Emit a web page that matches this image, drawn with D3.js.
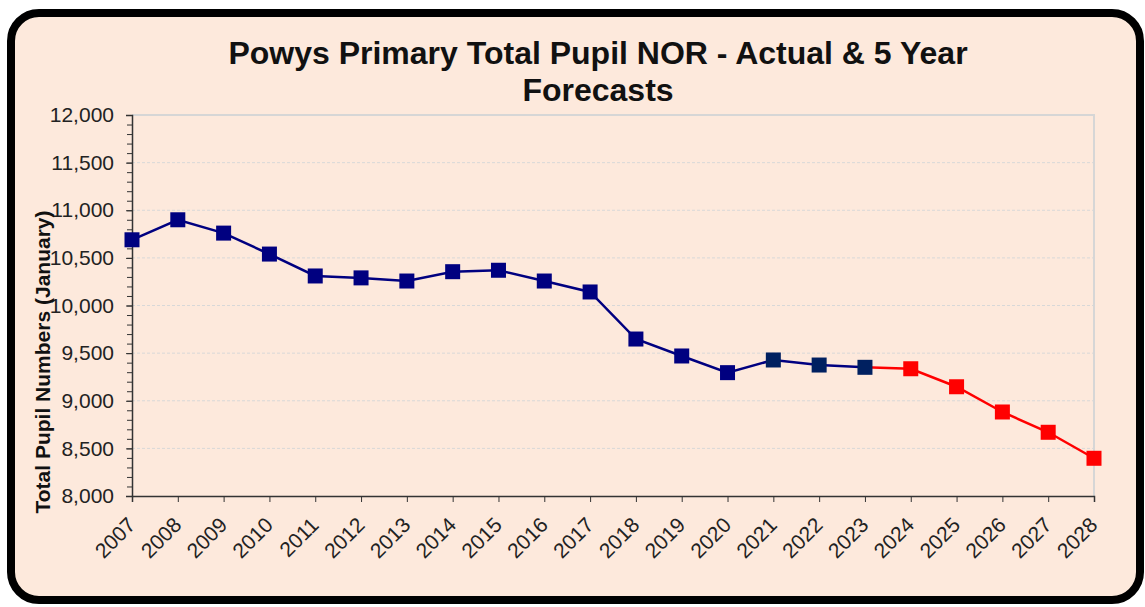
<!DOCTYPE html>
<html>
<head>
<meta charset="utf-8">
<script src="https://cdn.jsdelivr.net/npm/d3@7"></script>
<style>
  body { margin: 0; background: #fff; }
  svg { display: block; font-family: "Liberation Sans", Arial, sans-serif; }
</style>
</head>
<body>
<svg id="chart" width="1145" height="607"></svg>
<script>
// pupil numbers
const years = [2007, 2008, 2009, 2010, 2011, 2012, 2013, 2014, 2015, 2016, 2017,
               2018, 2019, 2020, 2021, 2022, 2023, 2024, 2025, 2026, 2027, 2028];
const actual = [10690, 10900, 10760, 10540, 10310, 10290, 10257, 10355, 10370, 10257, 10142,
                9648, 9470, 9295, 9428, 9375, 9351];
const forecast = [9351, 9336, 9147, 8882, 8669, 8396];
const forecastYears = years.slice(16);
const yTicks = [8000, 8500, 9000, 9500, 10000, 10500, 11000, 11500, 12000];
const titleLines = ["Powys Primary Total Pupil NOR - Actual & 5 Year", "Forecasts"];

const svg = d3.select("#chart");
const margin = {top: 115, left: 132, right: 51, bottom: 111};
const width = 1145 - margin.left - margin.right;
const height = 607 - margin.top - margin.bottom;

// panel with rounded black frame
svg.append("rect")
    .attr("x", 11).attr("y", 13)
    .attr("width", 1129).attr("height", 587)
    .attr("rx", 28)
    .attr("fill", "#fde9dc")
    .attr("stroke", "#000")
    .attr("stroke-width", 8);

svg.selectAll(".title")
    .data(titleLines)
    .join("text")
    .attr("class", "title")
    .attr("x", 598)
    .attr("y", (d, i) => 64 + i * 37)
    .attr("text-anchor", "middle")
    .attr("font-size", 32)
    .attr("font-weight", "bold")
    .attr("fill", "#111")
    .text(d => d);

const g = svg.append("g").attr("transform", `translate(${margin.left},${margin.top})`);

const x = d3.scaleLinear().domain([2007, 2028]).range([0, width]);
const y = d3.scaleLinear().domain([8000, 12000]).range([height, 0]);

// grid
g.selectAll(".grid")
    .data(yTicks.slice(1, -1))
    .join("line")
    .attr("x1", 0).attr("x2", width)
    .attr("y1", d => y(d)).attr("y2", d => y(d))
    .attr("stroke", "#d8d8d8")
    .attr("stroke-dasharray", "3,2");

// top and right frame of plot area
g.append("path")
    .attr("d", `M0,0H${width}V${height}`)
    .attr("fill", "none")
    .attr("stroke", "#d6d6d6")
    .attr("stroke-width", 2);

// minor ticks on y
const yMinor = d3.axisLeft(y).tickValues(d3.range(8000, 12001, 100)).tickSize(5).tickFormat("");
g.append("g").call(yMinor)
    .call(a => a.select(".domain").remove())
    .selectAll("line").attr("stroke", "#333");

const yAxis = g.append("g")
    .call(d3.axisLeft(y).tickValues(yTicks).tickSize(6).tickPadding(12).tickFormat(d3.format(",")));
yAxis.select(".domain").attr("stroke", "#333").attr("stroke-width", 1.5);
yAxis.selectAll("line").attr("stroke", "#333");
yAxis.selectAll("text")
    .attr("font-size", 21)
    .attr("font-family", "Liberation Sans, Arial, sans-serif")
    .attr("fill", "#222");

const xAxis = g.append("g")
    .attr("transform", `translate(0,${height})`)
    .call(d3.axisBottom(x).tickValues(years).tickSize(6).tickFormat(d3.format("d")));
xAxis.select(".domain").attr("stroke", "#333").attr("stroke-width", 1.5);
xAxis.selectAll("line").attr("stroke", "#333");
xAxis.selectAll("text")
    .attr("font-size", 21)
    .attr("font-family", "Liberation Sans, Arial, sans-serif")
    .attr("fill", "#222")
    .attr("text-anchor", "end")
    .attr("dy", 0)
    .attr("transform", "translate(-2,24) rotate(-45)");

// y axis title
svg.append("text")
    .attr("transform", "translate(50,362) rotate(-90)")
    .attr("text-anchor", "middle")
    .attr("font-size", 21)
    .attr("font-weight", "bold")
    .attr("fill", "#111")
    .text("Total Pupil Numbers (January)");

const line = d3.line().x(d => x(d[0])).y(d => y(d[1]));

const actualPts = actual.map((v, i) => [years[i], v]);
const forecastPts = forecast.map((v, i) => [forecastYears[i], v]);

g.append("path")
    .datum(forecastPts)
    .attr("d", line)
    .attr("fill", "none")
    .attr("stroke", "#ff0000")
    .attr("stroke-width", 2.5);

g.append("path")
    .datum(actualPts)
    .attr("d", line)
    .attr("fill", "none")
    .attr("stroke", "#000080")
    .attr("stroke-width", 2.5);

const ms = 15;
g.selectAll(".fc")
    .data(forecastPts.slice(1))
    .join("rect")
    .attr("x", d => x(d[0]) - ms / 2)
    .attr("y", d => y(d[1]) - ms / 2)
    .attr("width", ms).attr("height", ms)
    .attr("fill", "#ff0000");

g.selectAll(".ac")
    .data(actualPts)
    .join("rect")
    .attr("x", d => x(d[0]) - ms / 2)
    .attr("y", d => y(d[1]) - ms / 2)
    .attr("width", ms).attr("height", ms)
    .attr("fill", d => d[0] >= 2021 ? "#002060" : "#000080");
</script>
</body>
</html>
